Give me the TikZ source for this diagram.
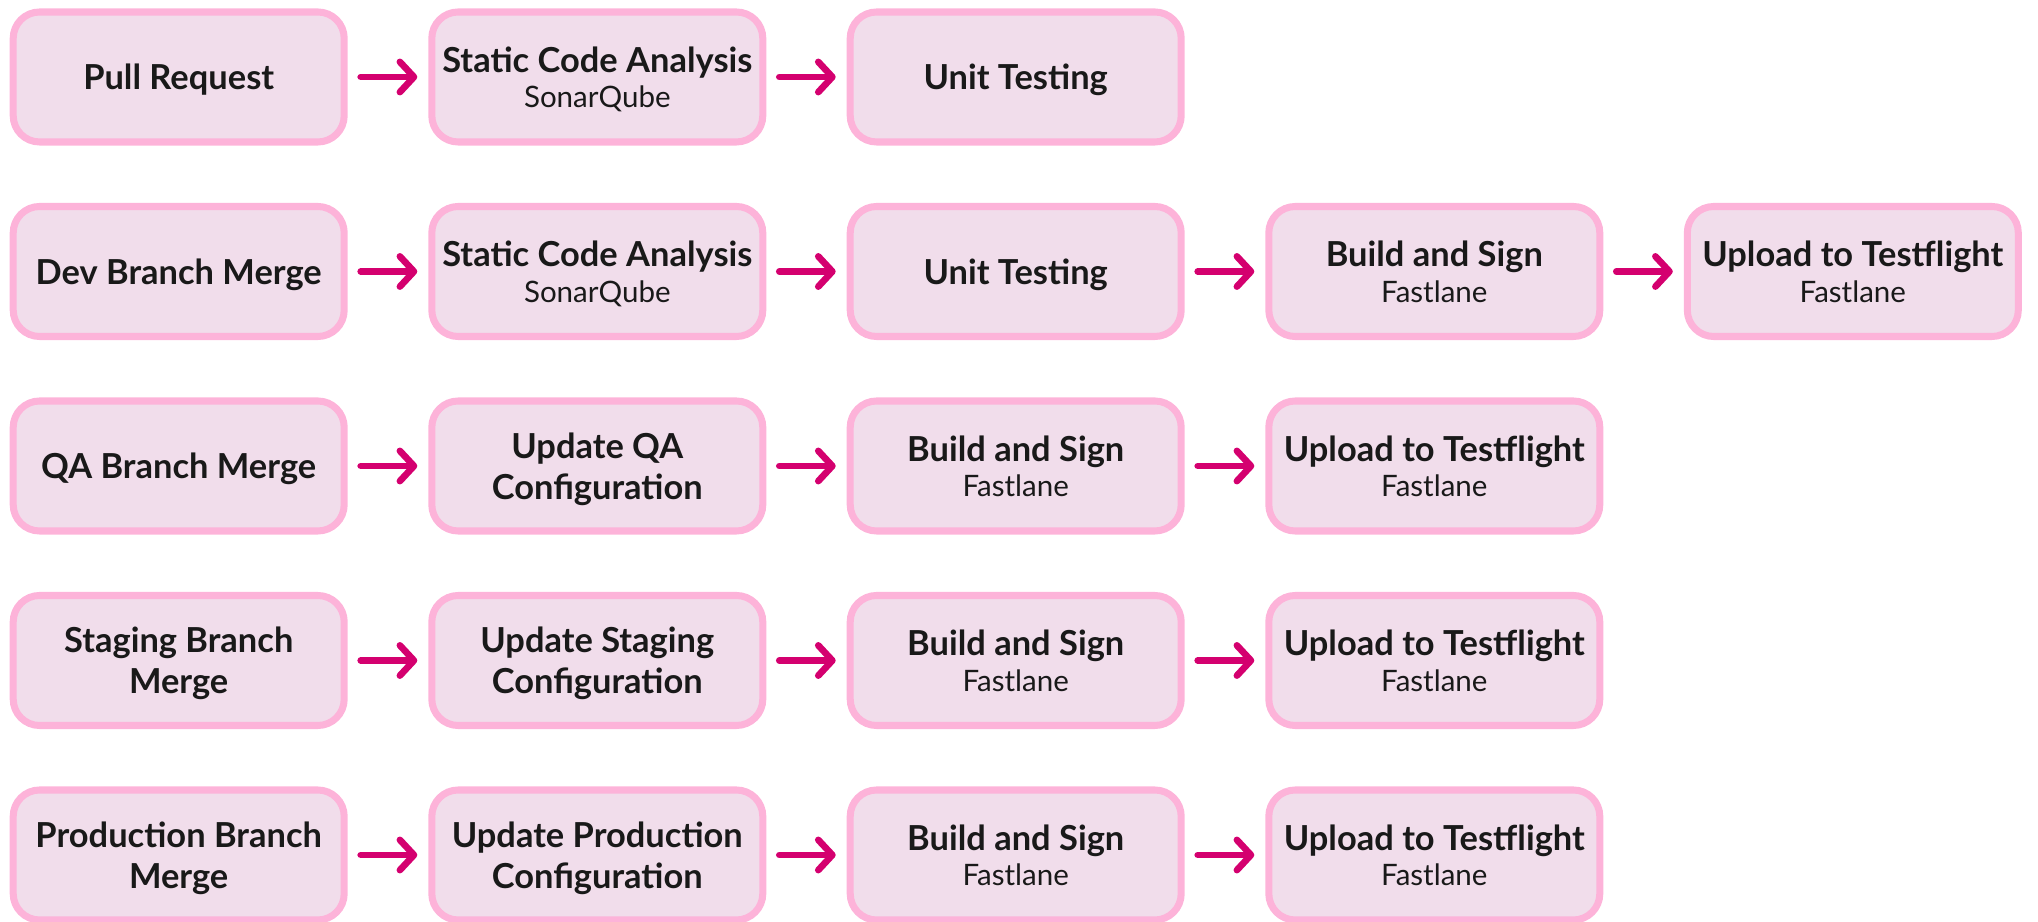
\documentclass[tikz,border=0pt]{standalone}
\usepackage{fontspec}
\setmainfont{Lato}
\usetikzlibrary{arrows.meta}
\definecolor{boxfill}{HTML}{F1DDEB}
\definecolor{boxline}{HTML}{FDB3D9}
\definecolor{arrowpink}{HTML}{D4006F}
\newcommand{\subtxt}[1]{{\fontsize{8.4}{9.5}\selectfont\mdseries #1}}
\begin{document}
\begin{tikzpicture}[auto,
    box/.style={draw=boxline, fill=boxfill, line width=2pt, rounded corners=7.5pt,
      minimum width=3.31cm, minimum height=1.30cm, inner sep=0pt, align=center,
      text depth=0pt, text=black!90, font=\fontsize{9.8}{11.6}\selectfont\bfseries},
    arr/.style={draw=arrowpink, line width=1.9pt, line cap=round,
      -{Straight Barb[length=4pt, width=8.6pt, line cap=round, line join=round]},
      shorten <=1.3mm, shorten >=1.1mm}]

    \useasboundingbox (0, 0) rectangle (20.38, -9.22);

    \node[box] (a1) at (1.787, -0.77) {Pull Request};
    \node[box] (a2) at (5.973, -0.77) {Static Code Analysis\\[-1.5pt]\subtxt{SonarQube}};
    \node[box] (a3) at (10.157, -0.77) {Unit Testing};

    \node[box] (b1) at (1.787, -2.715) {Dev Branch Merge};
    \node[box] (b2) at (5.973, -2.715) {Static Code Analysis\\[-1.5pt]\subtxt{SonarQube}};
    \node[box] (b3) at (10.157, -2.715) {Unit Testing};
    \node[box] (b4) at (14.343, -2.715) {Build and Sign\\[-1.5pt]\subtxt{Fastlane}};
    \node[box] (b5) at (18.528, -2.715) {Upload to Testflight\\[-1.5pt]\subtxt{Fastlane}};

    \node[box] (c1) at (1.787, -4.66) {QA Branch Merge};
    \node[box] (c2) at (5.973, -4.66) {Update QA\\Configuration};
    \node[box] (c3) at (10.157, -4.66) {Build and Sign\\[-1.5pt]\subtxt{Fastlane}};
    \node[box] (c4) at (14.343, -4.66) {Upload to Testflight\\[-1.5pt]\subtxt{Fastlane}};

    \node[box] (d1) at (1.787, -6.605) {Staging Branch\\Merge};
    \node[box] (d2) at (5.973, -6.605) {Update Staging\\Configuration};
    \node[box] (d3) at (10.157, -6.605) {Build and Sign\\[-1.5pt]\subtxt{Fastlane}};
    \node[box] (d4) at (14.343, -6.605) {Upload to Testflight\\[-1.5pt]\subtxt{Fastlane}};

    \node[box] (e1) at (1.787, -8.55) {Production Branch\\Merge};
    \node[box] (e2) at (5.973, -8.55) {Update Production\\Configuration};
    \node[box] (e3) at (10.157, -8.55) {Build and Sign\\[-1.5pt]\subtxt{Fastlane}};
    \node[box] (e4) at (14.343, -8.55) {Upload to Testflight\\[-1.5pt]\subtxt{Fastlane}};

    \draw [arr] (a1) to (a2);
    \draw [arr] (a2) to (a3);
    \draw [arr] (b1) to (b2);
    \draw [arr] (b2) to (b3);
    \draw [arr] (b3) to (b4);
    \draw [arr] (b4) to (b5);
    \draw [arr] (c1) to (c2);
    \draw [arr] (c2) to (c3);
    \draw [arr] (c3) to (c4);
    \draw [arr] (d1) to (d2);
    \draw [arr] (d2) to (d3);
    \draw [arr] (d3) to (d4);
    \draw [arr] (e1) to (e2);
    \draw [arr] (e2) to (e3);
    \draw [arr] (e3) to (e4);

\end{tikzpicture}
\end{document}
